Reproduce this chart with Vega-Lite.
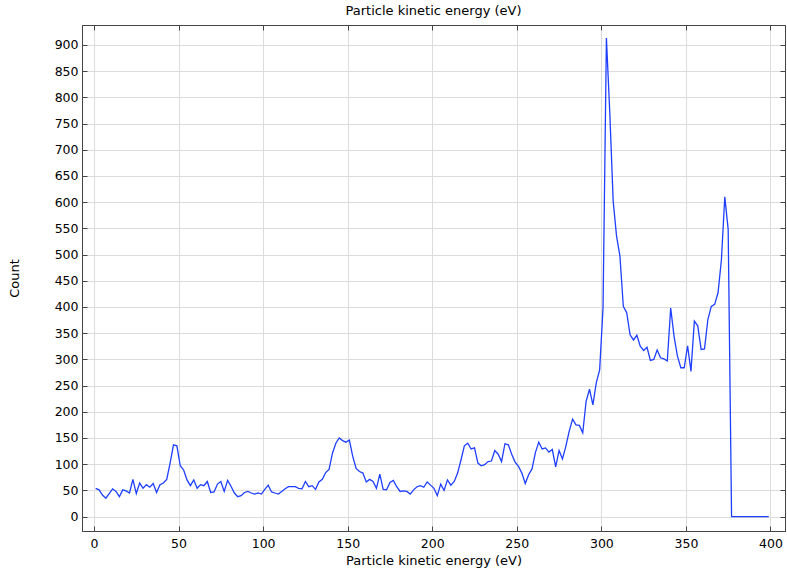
{
  "$schema": "https://vega.github.io/schema/vega-lite/v6.json",
  "width": 703,
  "height": 506,
  "autosize": {"type": "none"},
  "padding": {"left": 82, "top": 25, "right": 2, "bottom": 43},
  "title": {"text": "Particle kinetic energy (eV)", "fontSize": 13, "fontWeight": "normal", "font": "DejaVu Sans", "offset": 7, "color": "black"},
  "config": {
    "view": {"stroke": "#444", "strokeWidth": 1},
    "axis": {
      "domainColor": "#444",
      "tickColor": "#444",
      "gridColor": "#dcdcdc",
      "gridWidth": 1,
      "labelFont": "DejaVu Sans",
      "labelFontSize": 12.5,
      "labelColor": "black",
      "titleFont": "DejaVu Sans",
      "titleFontSize": 13,
      "titleFontWeight": "normal",
      "titleColor": "black",
      "tickSize": -5
    }
  },
  "data": {"values": [
    {"E":1,"C":54},{"E":3,"C":51},{"E":5,"C":41},{"E":7,"C":35},{"E":9,"C":44},{"E":11,"C":53},{"E":13,"C":48},{"E":15,"C":38},{"E":17,"C":51},{"E":19,"C":49},
    {"E":21,"C":45},{"E":23,"C":71},{"E":25,"C":44},{"E":27,"C":64},{"E":29,"C":54},{"E":31,"C":61},{"E":33,"C":56},{"E":35,"C":63},{"E":37,"C":46},{"E":39,"C":61},
    {"E":41,"C":64},{"E":43,"C":71},{"E":45,"C":102},{"E":47,"C":137},{"E":49,"C":135},{"E":51,"C":97},{"E":53,"C":89},{"E":55,"C":70},{"E":57,"C":59},{"E":59,"C":70},
    {"E":61,"C":54},{"E":63,"C":61},{"E":65,"C":59},{"E":67,"C":67},{"E":69,"C":46},{"E":71,"C":47},{"E":73,"C":62},{"E":75,"C":67},{"E":77,"C":48},{"E":79,"C":69},
    {"E":81,"C":58},{"E":83,"C":45},{"E":85,"C":38},{"E":87,"C":40},{"E":89,"C":46},{"E":91,"C":48},{"E":93,"C":45},{"E":95,"C":43},{"E":97,"C":45},{"E":99,"C":43},
    {"E":101,"C":52},{"E":103,"C":60},{"E":105,"C":47},{"E":107,"C":45},{"E":109,"C":43},{"E":111,"C":48},{"E":113,"C":53},{"E":115,"C":57},{"E":117,"C":57},{"E":119,"C":57},
    {"E":121,"C":54},{"E":123,"C":53},{"E":125,"C":67},{"E":127,"C":57},{"E":129,"C":59},{"E":131,"C":52},{"E":133,"C":66},{"E":135,"C":71},{"E":137,"C":84},{"E":139,"C":90},
    {"E":141,"C":121},{"E":143,"C":140},{"E":145,"C":150},{"E":147,"C":145},{"E":149,"C":142},{"E":151,"C":146},{"E":153,"C":115},{"E":155,"C":92},{"E":157,"C":86},{"E":159,"C":83},
    {"E":161,"C":66},{"E":163,"C":71},{"E":165,"C":67},{"E":167,"C":54},{"E":169,"C":81},{"E":171,"C":52},{"E":173,"C":51},{"E":175,"C":65},{"E":177,"C":69},{"E":179,"C":57},
    {"E":181,"C":48},{"E":183,"C":49},{"E":185,"C":48},{"E":187,"C":43},{"E":189,"C":51},{"E":191,"C":57},{"E":193,"C":59},{"E":195,"C":56},{"E":197,"C":66},{"E":199,"C":60},
    {"E":201,"C":54},{"E":203,"C":40},{"E":205,"C":62},{"E":207,"C":50},{"E":209,"C":70},{"E":211,"C":60},{"E":213,"C":67},{"E":215,"C":83},{"E":217,"C":108},{"E":219,"C":135},
    {"E":221,"C":140},{"E":223,"C":129},{"E":225,"C":131},{"E":227,"C":102},{"E":229,"C":97},{"E":231,"C":99},{"E":233,"C":105},{"E":235,"C":106},{"E":237,"C":126},{"E":239,"C":119},
    {"E":241,"C":105},{"E":243,"C":139},{"E":245,"C":137},{"E":247,"C":119},{"E":249,"C":104},{"E":251,"C":96},{"E":253,"C":83},{"E":255,"C":63},{"E":257,"C":80},{"E":259,"C":91},
    {"E":261,"C":122},{"E":263,"C":142},{"E":265,"C":129},{"E":267,"C":131},{"E":269,"C":123},{"E":271,"C":128},{"E":273,"C":95},{"E":275,"C":126},{"E":277,"C":110},{"E":279,"C":134},
    {"E":281,"C":163},{"E":283,"C":186},{"E":285,"C":175},{"E":287,"C":174},{"E":289,"C":160},{"E":291,"C":220},{"E":293,"C":243},{"E":295,"C":213},{"E":297,"C":255},{"E":299,"C":280},
    {"E":301,"C":398},{"E":303,"C":913},{"E":305,"C":770},{"E":307,"C":602},{"E":309,"C":535},{"E":311,"C":497},{"E":313,"C":401},{"E":315,"C":389},{"E":317,"C":347},{"E":319,"C":337},
    {"E":321,"C":346},{"E":323,"C":325},{"E":325,"C":317},{"E":327,"C":323},{"E":329,"C":298},{"E":331,"C":300},{"E":333,"C":318},{"E":335,"C":303},{"E":337,"C":301},{"E":339,"C":297},
    {"E":341,"C":398},{"E":343,"C":344},{"E":345,"C":306},{"E":347,"C":284},{"E":349,"C":284},{"E":351,"C":326},{"E":353,"C":277},{"E":355,"C":373},{"E":357,"C":364},{"E":359,"C":319},
    {"E":361,"C":320},{"E":363,"C":376},{"E":365,"C":401},{"E":367,"C":405},{"E":369,"C":427},{"E":371,"C":490},{"E":373,"C":610},{"E":375,"C":548},{"E":377,"C":0},{"E":379,"C":0},
    {"E":381,"C":0},{"E":383,"C":0},{"E":385,"C":0},{"E":387,"C":0},{"E":389,"C":0},{"E":391,"C":0},{"E":393,"C":0},{"E":395,"C":0},{"E":397,"C":0},{"E":399,"C":0}
  ]},
  "layer": [
    {
      "mark": {"type": "line", "color": "#1f3fff", "strokeWidth": 1.3},
      "encoding": {
        "x": {"field": "E", "type": "quantitative", "scale": {"domain": [-7.1, 408.6], "nice": false, "zero": false},
              "axis": {"title": "Particle kinetic energy (eV)", "values": [0,50,100,150,200,250,300,350,400], "labelPadding": 11, "titlePadding": 5, "orient": "bottom"}},
        "y": {"field": "C", "type": "quantitative", "scale": {"domain": [-27.5, 938], "nice": false, "zero": false},
              "axis": {"title": "Count", "values": [0,50,100,150,200,250,300,350,400,450,500,550,600,650,700,750,800,850,900], "labelPadding": 9, "titlePadding": 33, "orient": "left"}}
      }
    },
    {
      "mark": {"type": "line", "opacity": 0},
      "encoding": {
        "x": {"field": "E", "type": "quantitative",
              "axis": {"title": null, "orient": "top", "labels": false, "grid": false, "values": [0,50,100,150,200,250,300,350,400]}},
        "y": {"field": "C", "type": "quantitative",
              "axis": {"title": null, "orient": "right", "labels": false, "grid": false, "values": [0,50,100,150,200,250,300,350,400,450,500,550,600,650,700,750,800,850,900]}}
      }
    }
  ],
  "resolve": {"axis": {"x": "independent", "y": "independent"}}
}
